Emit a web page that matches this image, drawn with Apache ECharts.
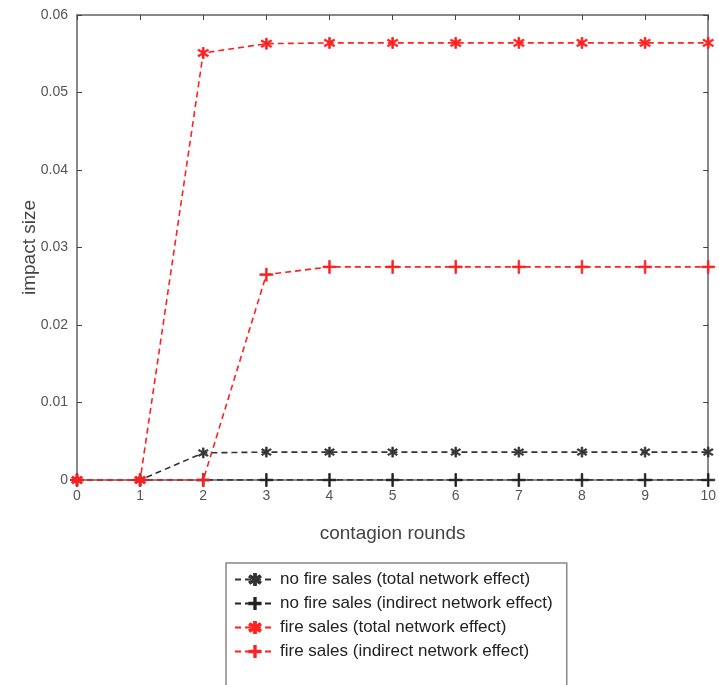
<!DOCTYPE html>
<html><head><meta charset="utf-8">
<script src="https://cdn.jsdelivr.net/npm/echarts@6/dist/echarts.min.js"></script>
<style>html,body{margin:0;padding:0;background:#fff}#c{width:719px;height:685px}</style>
</head><body><div id="c"></div>
<script>
const rounds = [0,1,2,3,4,5,6,7,8,9,10];
const noFireTotal    = [0,0,0.0035,0.0036,0.0036,0.0036,0.0036,0.0036,0.0036,0.0036,0.0036];
const noFireIndirect = [0,0,0,0,0,0,0,0,0,0,0];
const fireTotal      = [0,0,0.0551,0.0563,0.0564,0.0564,0.0564,0.0564,0.0564,0.0564,0.0564];
const fireIndirect   = [0,0,0,0.0265,0.0275,0.0275,0.0275,0.0275,0.0275,0.0275,0.0275];
const seriesNames = ['no fire sales (total network effect)','no fire sales (indirect network effect)','fire sales (total network effect)','fire sales (indirect network effect)'];
const yTicks = [0,0.01,0.02,0.03,0.04,0.05,0.06];

const PLUS = 'path://M4.4,0H5.6V4.4H10V5.6H5.6V10H4.4V5.6H0V4.4H4.4Z';
const STAR = 'path://M4.3,0H5.7V3.5L8.6,1.5L9.4,2.7L6.4,4.7V5.3L9.4,7.3L8.6,8.5L5.7,6.5V10H4.3V6.5L1.4,8.5L0.6,7.3L3.6,5.3V4.7L0.6,2.7L1.4,1.5L4.3,3.5Z';

function mk(name, data, color, symbol, size){
  return {
    name, type:'line', data: rounds.map((r,i)=>[r,data[i]]),
    symbol, symbolSize:size,
    lineStyle:{color, width:1.6, type:[6,4]},
    itemStyle:{color, borderColor:color, borderWidth:0.8},
    emphasis:{disabled:true}, animation:false, z: 3
  };
}
const chart = echarts.init(document.getElementById('c'));
const axLine = {show:true, onZero:false, lineStyle:{color:'#888', width:2}};
const tick = {show:true, inside:true, length:5, lineStyle:{color:'#444', width:1}};
const lbl = {color:'#555', fontSize:14, fontFamily:'Liberation Sans'};
chart.setOption({
  animation:false,
  textStyle:{fontFamily:'Liberation Sans'},
  grid:{left:77, right:10, top:15, bottom:205, containLabel:false},
  xAxis:[{
    type:'value', min:0, max:10, interval:1, position:'bottom',
    name:'contagion rounds', nameLocation:'middle', nameGap:44, nameMoveOverlap:false,
    nameTextStyle:{color:'#444', fontSize:19, fontFamily:'Liberation Sans'},
    axisLine:axLine, axisTick:tick,
    axisLabel:Object.assign({margin:9}, lbl), splitLine:{show:false}
  },{
    type:'value', min:0, max:10, interval:1, position:'top',
    axisLine:axLine, axisTick:tick,
    axisLabel:{show:false}, splitLine:{show:false}
  }],
  yAxis:[{
    type:'value', min:0, max:0.06, interval:0.01, position:'left',
    name:'impact size', nameLocation:'middle', nameGap:38, nameMoveOverlap:false,
    nameTextStyle:{color:'#444', fontSize:19, fontFamily:'Liberation Sans'},
    axisLine:axLine, axisTick:tick,
    axisLabel:Object.assign({margin:9, formatter:v=>{const t=yTicks.find(x=>Math.abs(x-v)<1e-9);return t===undefined?'':String(+t.toFixed(2));}}, lbl),
    splitLine:{show:false}
  },{
    type:'value', min:0, max:0.06, interval:0.01, position:'right',
    axisLine:axLine, axisTick:tick,
    axisLabel:{show:false}, splitLine:{show:false}
  }],
  legend:{
    orient:'vertical', left:226, top:563, width:340, height:200,
    backgroundColor:'#fff', borderColor:'#888', borderWidth:1.5,
    padding:[8,14,30,8], itemGap:7, itemWidth:40, itemHeight:14,
    textStyle:{color:'#222', fontSize:17, fontFamily:'Liberation Sans'},
    data:seriesNames
  },
  series:[
    mk(seriesNames[0], noFireTotal, '#333', STAR, 10),
    mk(seriesNames[1], noFireIndirect, '#222', PLUS, 13),
    mk(seriesNames[2], fireTotal, '#ff2020', STAR, 11),
    mk(seriesNames[3], fireIndirect, '#ff2020', PLUS, 13),
    {type:'line', xAxisIndex:1, yAxisIndex:1, data:[], silent:true}
  ]
});
</script></body></html>
